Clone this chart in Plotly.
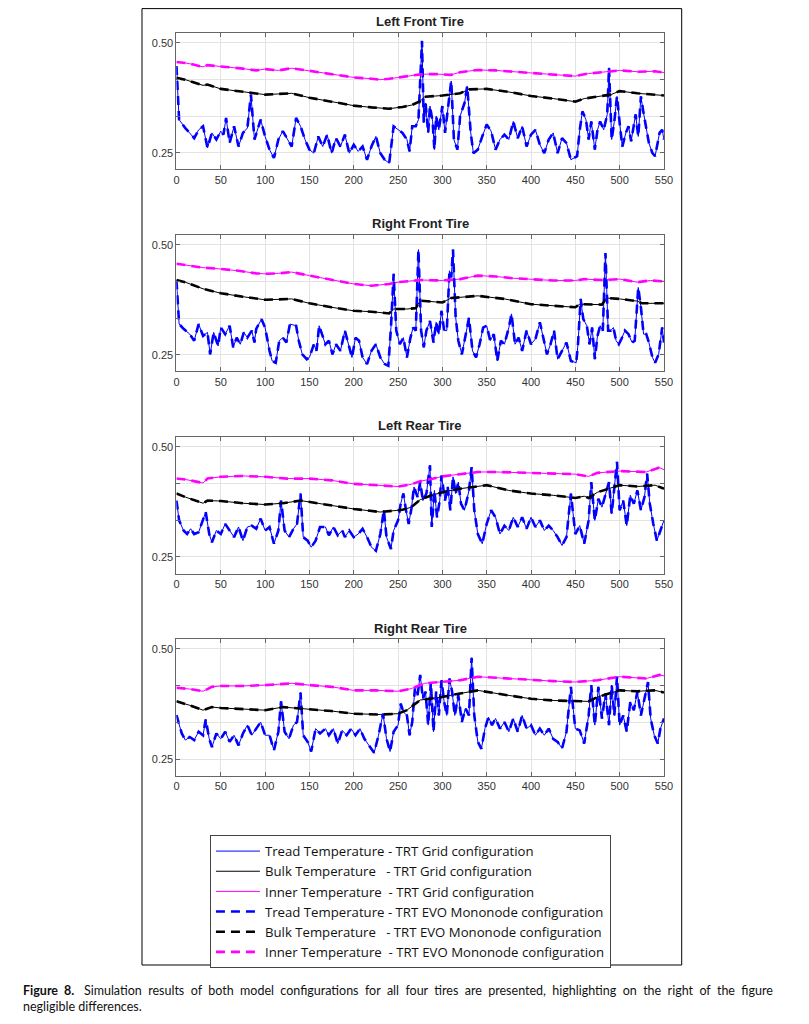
import plotly.graph_objects as go

# ---------------- DATA ----------------
x_ticks = list(range(0, 551, 50))
y_tickvals = [0.25, 0.3333, 0.4167, 0.50]
y_ticktext = ["0.25", "", "", "0.50"]
titles = ["Left Front Tire", "Right Front Tire", "Left Rear Tire", "Right Rear Tire"]
series_names = [
    "Tread Temperature - TRT Grid configuration",
    "Bulk Temperature\u00a0\u00a0 - TRT Grid configuration",
    "Inner Temperature\u00a0 - TRT Grid configuration",
    "Tread Temperature - TRT EVO Mononode configuration",
    "Bulk Temperature\u00a0\u00a0 - TRT EVO Mononode configuration",
    "Inner Temperature\u00a0 - TRT EVO Mononode configuration",
]
caption_words_line1 = ["<b>Figure", "8.</b>\u00a0", "Simulation", "results", "of", "both", "model", "configurations",
                       "for", "all", "four", "tires", "are", "presented,", "highlighting", "on", "the", "right",
                       "of", "the", "figure"]
caption_line2 = "negligible differences."

# Left Front Tire
lf_tread_t = [0, 3, 10, 20, 25, 30, 35, 40, 45, 50, 53, 56, 60, 65, 70, 75, 80, 84, 88, 95, 100, 105, 110, 115, 120,
              125, 130, 135, 140, 145, 150, 155, 160, 165, 170, 175, 180, 185, 190, 195, 200, 205, 210, 215, 220, 225,
              230, 235, 240, 245, 250, 255, 260, 263, 266, 270, 273, 277, 279, 281, 284, 286, 289, 291, 293, 296, 300,
              303, 307, 310, 313, 317, 320, 325, 328, 332, 335, 340, 345, 350, 355, 360, 365, 370, 375, 380, 385, 390,
              395, 400, 405, 410, 415, 420, 425, 430, 435, 440, 445, 452, 455, 458, 462, 465, 468, 472, 475, 478, 482,
              486, 488, 491, 494, 497, 500, 503, 507, 510, 513, 518, 521, 524, 527, 530, 533, 537, 540, 545, 548, 550]
lf_tread = [0.447, 0.325, 0.306, 0.283, 0.302, 0.310, 0.261, 0.295, 0.280, 0.299, 0.291, 0.329, 0.272, 0.310, 0.264,
            0.295, 0.306, 0.382, 0.280, 0.325, 0.287, 0.257, 0.238, 0.280, 0.299, 0.280, 0.264, 0.329, 0.310, 0.280,
            0.257, 0.249, 0.287, 0.264, 0.291, 0.249, 0.283, 0.264, 0.291, 0.249, 0.268, 0.253, 0.264, 0.234, 0.264,
            0.287, 0.249, 0.234, 0.226, 0.310, 0.302, 0.295, 0.280, 0.253, 0.310, 0.310, 0.325, 0.504, 0.318, 0.363,
            0.295, 0.356, 0.321, 0.257, 0.333, 0.302, 0.356, 0.295, 0.363, 0.413, 0.280, 0.257, 0.333, 0.363, 0.401,
            0.295, 0.249, 0.257, 0.287, 0.314, 0.299, 0.257, 0.280, 0.291, 0.280, 0.321, 0.283, 0.310, 0.264, 0.291,
            0.302, 0.268, 0.249, 0.280, 0.295, 0.249, 0.283, 0.272, 0.234, 0.242, 0.302, 0.344, 0.325, 0.280, 0.321,
            0.257, 0.302, 0.321, 0.302, 0.337, 0.443, 0.280, 0.321, 0.378, 0.318, 0.264, 0.295, 0.310, 0.276, 0.337,
            0.287, 0.378, 0.340, 0.310, 0.272, 0.249, 0.242, 0.295, 0.302, 0.280]
lf_bulk_t = [0, 10, 30, 35, 50, 75, 100, 130, 150, 175, 200, 220, 240, 255, 265, 275, 280, 300, 320, 330, 350, 375,
             400, 425, 450, 460, 480, 490, 500, 520, 550]
lf_bulk = [0.420, 0.416, 0.403, 0.405, 0.395, 0.388, 0.382, 0.385, 0.375, 0.366, 0.357, 0.353, 0.350, 0.354, 0.358,
           0.367, 0.377, 0.380, 0.385, 0.394, 0.395, 0.388, 0.379, 0.373, 0.366, 0.373, 0.379, 0.382, 0.390, 0.385,
           0.380]
lf_inner_t = [0, 10, 20, 30, 35, 50, 60, 75, 90, 100, 115, 130, 150, 165, 180, 200, 215, 230, 240, 250, 265, 275, 290,
              310, 320, 340, 360, 380, 400, 420, 440, 450, 465, 480, 500, 520, 540, 550]
lf_inner = [0.456, 0.454, 0.450, 0.445, 0.449, 0.446, 0.445, 0.441, 0.437, 0.440, 0.437, 0.442, 0.436, 0.432, 0.428,
            0.421, 0.419, 0.416, 0.418, 0.421, 0.424, 0.428, 0.429, 0.427, 0.433, 0.438, 0.437, 0.434, 0.432, 0.428,
            0.426, 0.424, 0.430, 0.433, 0.437, 0.434, 0.435, 0.432]

# Right Front Tire
rf_tread_t = [0, 3, 8, 15, 20, 25, 30, 35, 38, 42, 47, 50, 55, 60, 64, 68, 72, 76, 80, 85, 88, 90, 96, 100, 105, 108,
              112, 116, 120, 124, 128, 135, 138, 142, 147, 150, 155, 158, 161, 165, 168, 172, 176, 180, 185, 190, 194,
              198, 202, 206, 210, 215, 220, 225, 230, 235, 239, 242, 245, 248, 252, 256, 260, 264, 267, 270, 273, 276,
              279, 282, 286, 290, 293, 296, 299, 302, 305, 308, 310, 312, 315, 318, 322, 326, 330, 334, 338, 342, 346,
              350, 354, 358, 362, 366, 370, 375, 378, 382, 386, 390, 395, 400, 405, 410, 414, 418, 422, 426, 430, 435,
              440, 445, 451, 453, 456, 459, 463, 466, 469, 472, 475, 478, 481, 484, 487, 490, 493, 496, 499, 502, 506,
              510, 514, 517, 521, 524, 527, 530, 533, 537, 540, 544, 548, 550]
rf_tread = [0.419, 0.320, 0.309, 0.297, 0.282, 0.320, 0.293, 0.301, 0.251, 0.301, 0.270, 0.312, 0.297, 0.316, 0.267,
            0.289, 0.274, 0.301, 0.289, 0.305, 0.278, 0.309, 0.331, 0.312, 0.259, 0.236, 0.232, 0.282, 0.289, 0.278,
            0.320, 0.316, 0.282, 0.251, 0.240, 0.244, 0.274, 0.259, 0.316, 0.289, 0.274, 0.282, 0.251, 0.274, 0.259,
            0.305, 0.274, 0.244, 0.289, 0.282, 0.244, 0.229, 0.259, 0.274, 0.244, 0.229, 0.225, 0.312, 0.434, 0.305,
            0.274, 0.289, 0.244, 0.289, 0.312, 0.305, 0.489, 0.305, 0.267, 0.305, 0.327, 0.278, 0.324, 0.297, 0.350,
            0.305, 0.305, 0.441, 0.426, 0.489, 0.335, 0.282, 0.251, 0.289, 0.334, 0.259, 0.244, 0.274, 0.312, 0.316,
            0.282, 0.297, 0.236, 0.282, 0.274, 0.312, 0.343, 0.274, 0.289, 0.259, 0.305, 0.274, 0.286, 0.324, 0.289,
            0.251, 0.274, 0.305, 0.240, 0.259, 0.278, 0.236, 0.232, 0.274, 0.377, 0.331, 0.316, 0.274, 0.312, 0.240,
            0.293, 0.316, 0.305, 0.481, 0.305, 0.305, 0.312, 0.282, 0.274, 0.286, 0.305, 0.297, 0.278, 0.282, 0.403,
            0.358, 0.297, 0.297, 0.278, 0.244, 0.232, 0.251, 0.312, 0.278]
rf_bulk_t = [0, 10, 30, 50, 75, 100, 130, 150, 175, 200, 220, 240, 245, 260, 270, 275, 300, 310, 340, 370, 400, 425,
             450, 455, 480, 485, 500, 520, 525, 550]
rf_bulk = [0.420, 0.415, 0.400, 0.390, 0.382, 0.375, 0.377, 0.367, 0.358, 0.350, 0.348, 0.344, 0.354, 0.354, 0.356,
           0.373, 0.369, 0.379, 0.384, 0.377, 0.365, 0.362, 0.358, 0.365, 0.364, 0.379, 0.377, 0.372, 0.367, 0.367]
rf_inner_t = [0, 10, 30, 50, 70, 90, 100, 115, 130, 150, 175, 200, 220, 240, 250, 275, 300, 320, 340, 360, 380, 400,
              425, 450, 460, 480, 500, 520, 535, 550]
rf_inner = [0.457, 0.454, 0.448, 0.445, 0.441, 0.435, 0.434, 0.435, 0.438, 0.430, 0.420, 0.411, 0.407, 0.411, 0.415,
            0.420, 0.419, 0.422, 0.430, 0.428, 0.424, 0.422, 0.419, 0.419, 0.422, 0.420, 0.422, 0.415, 0.419, 0.417]

# Left Rear Tire
lr_tread_t = [0, 3, 8, 12, 16, 20, 25, 30, 33, 37, 40, 45, 50, 55, 60, 65, 70, 75, 80, 85, 90, 95, 100, 105, 110, 115,
              118, 122, 127, 132, 136, 140, 143, 148, 152, 157, 162, 168, 172, 177, 182, 187, 190, 195, 200, 205, 210,
              215, 220, 225, 230, 234, 237, 242, 245, 250, 253, 256, 259, 262, 265, 268, 272, 275, 278, 282, 286, 288,
              291, 294, 297, 299, 303, 306, 309, 312, 315, 318, 321, 325, 330, 333, 336, 340, 345, 350, 355, 360, 365,
              370, 375, 380, 385, 390, 395, 400, 405, 410, 415, 420, 425, 430, 435, 440, 445, 450, 455, 460, 465, 468,
              472, 476, 480, 484, 488, 491, 494, 497, 500, 504, 508, 512, 516, 520, 524, 528, 531, 534, 538, 542, 546,
              550]
lr_tread = [0.378, 0.333, 0.310, 0.302, 0.314, 0.302, 0.306, 0.333, 0.352, 0.302, 0.283, 0.310, 0.302, 0.325, 0.310,
            0.295, 0.318, 0.287, 0.318, 0.321, 0.314, 0.337, 0.310, 0.318, 0.280, 0.310, 0.378, 0.310, 0.295, 0.314,
            0.325, 0.394, 0.295, 0.287, 0.272, 0.287, 0.318, 0.318, 0.299, 0.318, 0.299, 0.310, 0.295, 0.310, 0.295,
            0.302, 0.314, 0.295, 0.272, 0.264, 0.302, 0.356, 0.295, 0.268, 0.310, 0.333, 0.371, 0.394, 0.356, 0.325,
            0.359, 0.409, 0.386, 0.420, 0.378, 0.394, 0.458, 0.318, 0.401, 0.340, 0.378, 0.435, 0.378, 0.409, 0.356,
            0.432, 0.394, 0.420, 0.371, 0.356, 0.401, 0.454, 0.356, 0.302, 0.280, 0.325, 0.356, 0.340, 0.302, 0.321,
            0.310, 0.340, 0.318, 0.340, 0.314, 0.340, 0.318, 0.333, 0.310, 0.321, 0.310, 0.295, 0.276, 0.295, 0.394,
            0.302, 0.321, 0.280, 0.333, 0.420, 0.333, 0.382, 0.363, 0.394, 0.420, 0.348, 0.401, 0.466, 0.356, 0.378,
            0.321, 0.390, 0.371, 0.401, 0.356, 0.386, 0.439, 0.371, 0.325, 0.287, 0.310, 0.333]
lr_bulk_t = [0, 10, 30, 35, 50, 75, 100, 120, 140, 150, 175, 200, 230, 255, 265, 275, 285, 300, 320, 340, 350, 375,
             400, 425, 450, 460, 465, 475, 500, 520, 540, 550]
lr_bulk = [0.394, 0.386, 0.372, 0.378, 0.377, 0.372, 0.369, 0.372, 0.378, 0.375, 0.367, 0.359, 0.352, 0.357, 0.363,
           0.380, 0.388, 0.397, 0.405, 0.410, 0.413, 0.401, 0.394, 0.390, 0.384, 0.388, 0.384, 0.397, 0.413, 0.410,
           0.413, 0.405]
lr_inner_t = [0, 10, 30, 35, 50, 75, 100, 125, 150, 175, 200, 225, 250, 265, 275, 290, 300, 320, 340, 360, 380, 400,
              425, 450, 465, 475, 500, 520, 530, 545, 550]
lr_inner = [0.428, 0.426, 0.418, 0.428, 0.432, 0.434, 0.432, 0.428, 0.428, 0.424, 0.416, 0.413, 0.410, 0.415, 0.422,
            0.428, 0.433, 0.438, 0.443, 0.443, 0.442, 0.441, 0.439, 0.438, 0.433, 0.441, 0.445, 0.443, 0.443, 0.453,
            0.448]

# Right Rear Tire
rr_tread_t = [0, 3, 6, 10, 15, 20, 25, 30, 33, 37, 40, 45, 50, 55, 60, 65, 70, 75, 80, 85, 90, 95, 100, 105, 110, 115,
              118, 122, 127, 132, 136, 140, 143, 148, 152, 157, 162, 168, 172, 177, 182, 187, 192, 197, 202, 207, 212,
              217, 223, 228, 233, 237, 241, 245, 250, 253, 256, 260, 263, 266, 269, 272, 275, 278, 281, 284, 287, 290,
              293, 296, 299, 302, 305, 308, 311, 314, 318, 322, 326, 330, 333, 336, 340, 344, 348, 352, 356, 360, 365,
              370, 375, 380, 385, 390, 395, 400, 405, 410, 415, 420, 425, 430, 435, 440, 445, 450, 455, 460, 465, 468,
              472, 476, 480, 484, 488, 491, 494, 497, 500, 504, 508, 512, 516, 520, 524, 528, 532, 535, 539, 543, 546,
              550]
rr_tread = [0.350, 0.327, 0.308, 0.293, 0.300, 0.293, 0.312, 0.304, 0.340, 0.296, 0.277, 0.308, 0.296, 0.312, 0.289,
            0.304, 0.281, 0.308, 0.327, 0.304, 0.319, 0.334, 0.304, 0.304, 0.270, 0.312, 0.381, 0.312, 0.296, 0.327,
            0.334, 0.401, 0.304, 0.289, 0.267, 0.319, 0.308, 0.319, 0.304, 0.319, 0.285, 0.315, 0.304, 0.319, 0.304,
            0.319, 0.296, 0.281, 0.264, 0.304, 0.353, 0.296, 0.267, 0.312, 0.327, 0.376, 0.357, 0.349, 0.304, 0.334,
            0.410, 0.395, 0.441, 0.387, 0.403, 0.327, 0.425, 0.312, 0.403, 0.349, 0.429, 0.380, 0.349, 0.433, 0.403,
            0.349, 0.395, 0.334, 0.365, 0.349, 0.480, 0.349, 0.289, 0.273, 0.319, 0.345, 0.327, 0.342, 0.319, 0.334,
            0.312, 0.342, 0.312, 0.349, 0.319, 0.327, 0.304, 0.319, 0.304, 0.319, 0.296, 0.289, 0.274, 0.312, 0.414,
            0.319, 0.315, 0.285, 0.349, 0.418, 0.327, 0.414, 0.342, 0.399, 0.327, 0.418, 0.349, 0.437, 0.327, 0.349,
            0.312, 0.380, 0.361, 0.403, 0.349, 0.387, 0.425, 0.342, 0.304, 0.285, 0.319, 0.342]
rr_bulk_t = [0, 15, 30, 40, 50, 75, 100, 120, 150, 175, 200, 230, 250, 260, 275, 300, 320, 340, 370, 400, 425, 450,
             465, 475, 500, 520, 540, 550]
rr_bulk = [0.381, 0.372, 0.361, 0.368, 0.366, 0.363, 0.361, 0.368, 0.363, 0.359, 0.353, 0.351, 0.353, 0.361, 0.384,
           0.391, 0.399, 0.406, 0.396, 0.387, 0.383, 0.381, 0.381, 0.391, 0.406, 0.404, 0.406, 0.401]
rr_inner_t = [0, 15, 30, 40, 50, 75, 100, 130, 150, 175, 200, 225, 250, 265, 280, 300, 320, 340, 370, 400, 425, 450,
              475, 500, 530, 545, 550]
rr_inner = [0.412, 0.409, 0.404, 0.414, 0.416, 0.416, 0.418, 0.422, 0.418, 0.414, 0.406, 0.406, 0.404, 0.410, 0.422,
            0.425, 0.429, 0.437, 0.433, 0.429, 0.427, 0.425, 0.429, 0.437, 0.433, 0.441, 0.439]

# EVO Mononode configuration: indistinguishable from Grid in the picture
tires = [
    (lf_tread_t, lf_tread, lf_bulk_t, lf_bulk, lf_inner_t, lf_inner),
    (rf_tread_t, rf_tread, rf_bulk_t, rf_bulk, rf_inner_t, rf_inner),
    (lr_tread_t, lr_tread, lr_bulk_t, lr_bulk, lr_inner_t, lr_inner),
    (rr_tread_t, rr_tread, rr_bulk_t, rr_bulk, rr_inner_t, rr_inner),
]

# ---------------- LAYOUT ----------------
# the page body has an 8px margin; positions below are page pixels
OFF = 8
W, H = 809 - 2 * OFF, 1024 - 2 * OFF


def fx(p):
    return (p - OFF) / W


def fy(p):
    return 1 - (p - OFF) / H


X_LEFT, X_RIGHT = 176, 671
TOP0, BOT0, STEP = 32.7, 169.3, 202.1
Y_RANGE = [0.2123, 0.5227]
colors = ["#0000ff", "#000000", "#ff00ff"]
AX_FONT = dict(family="Liberation Sans, Arial, sans-serif", size=11, color="#333333")

fig = go.Figure()
for k, (tt, tv, bt, bv, it, iv) in enumerate(tires):
    sfx = "" if k == 0 else str(k + 1)
    xa, ya = "x" + sfx, "y" + sfx
    data = [(tt, tv), (bt, bv), (it, iv)]
    for j, (xs, ys) in enumerate(data):
        fig.add_trace(go.Scatter(x=xs, y=ys, mode="lines", xaxis=xa, yaxis=ya,
                                 name=series_names[j], showlegend=(k == 0),
                                 line=dict(color=colors[j], width=1)))
    for j, (xs, ys) in enumerate(data):
        fig.add_trace(go.Scatter(x=xs, y=ys, mode="lines", xaxis=xa, yaxis=ya,
                                 name=series_names[3 + j], showlegend=(k == 0),
                                 line=dict(color=colors[j], width=2.6, dash="9px,6px")))

    top = TOP0 + STEP * k
    bot = BOT0 + STEP * k
    axis_common = dict(showline=True, linecolor="#666666", linewidth=1, mirror="ticks",
                       ticks="inside", ticklen=4, tickcolor="#666666",
                       showgrid=True, gridcolor="#e3e3e3", gridwidth=1,
                       zeroline=False, tickfont=AX_FONT)
    fig.layout["xaxis" + sfx] = dict(domain=[fx(X_LEFT), fx(X_RIGHT)], anchor=ya,
                                     range=[0, 550], tickvals=x_ticks, **axis_common)
    fig.layout["yaxis" + sfx] = dict(domain=[fy(bot), fy(top)], anchor=xa,
                                     range=Y_RANGE, tickvals=y_tickvals, ticktext=y_ticktext,
                                     **axis_common)
    fig.add_annotation(text="<b>" + titles[k] + "</b>", xref="paper", yref="paper",
                       x=fx((X_LEFT + X_RIGHT) / 2), y=fy(top - 11),
                       xanchor="center", yanchor="middle", showarrow=False,
                       font=dict(family="Liberation Sans, Arial, sans-serif", size=13, color="#222222"))

# outer figure frame
fig.add_shape(type="rect", xref="paper", yref="paper",
              x0=fx(141), x1=fx(689), y0=fy(965), y1=fy(8.6),
              line=dict(color="#000000", width=1), fillcolor="rgba(0,0,0,0)", layer="below")

# caption (first line justified to full width)
caption_text = " \u00a0".join(caption_words_line1) + "<br>" + caption_line2
fig.add_annotation(
    text=caption_text,
    xref="paper", yref="paper", x=fx(18), y=fy(981), xanchor="left", yanchor="top",
    align="left", showarrow=False,
    font=dict(family="Lato, 'Open Sans', sans-serif", size=12.5, color="#111111"))

fig.update_layout(
    width=W, height=H, margin=dict(l=0, r=0, t=0, b=0),
    paper_bgcolor="white", plot_bgcolor="white",
    legend=dict(x=fx(210), y=fy(835), xanchor="left", yanchor="top",
                bgcolor="white", bordercolor="#444444", borderwidth=1,
                font=dict(family="Open Sans, Liberation Sans, sans-serif", size=13.2, color="#111111"),
                itemwidth=44, tracegroupgap=0, traceorder="normal"),
)

fig.write_html("out.html")
